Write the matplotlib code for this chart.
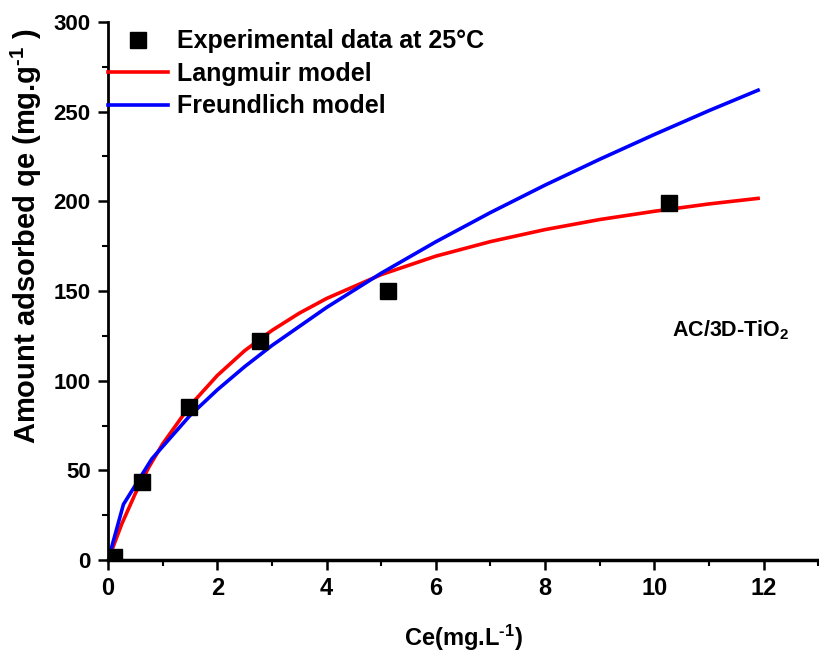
import matplotlib
matplotlib.use("Agg")
import matplotlib.pyplot as plt
from matplotlib.ticker import MultipleLocator

# datos experimentales (25 C)
ce_exp = [0.1, 0.62, 1.49, 2.78, 5.13, 10.26]
qe_exp = [1.5, 43.7, 85.2, 122.0, 150.0, 199.0]

# curva Langmuir
ce_lang = [0, 0.25, 0.5, 0.75, 1, 1.5, 2, 2.5, 3, 3.5, 4, 5, 6, 7, 8, 9, 10, 11, 11.9]
qe_lang = [0, 20.1, 37.2, 52.0, 64.8, 86.1, 102.9, 116.7, 128.0, 137.6, 145.8,
           159.1, 169.4, 177.5, 184.2, 189.8, 194.4, 198.5, 201.6]

# curva Freundlich
ce_freu = [0, 0.28, 0.8, 1.5, 2, 2.5, 3, 4, 5, 6, 7, 8, 9, 10, 11, 11.9]
qe_freu = [0, 31.0, 56.4, 80.6, 94.9, 107.8, 119.6, 140.8, 159.9, 177.4,
           193.7, 209.0, 223.4, 237.2, 250.5, 261.9]

plt.rcParams['font.family'] = ['Liberation Sans', 'DejaVu Sans']
plt.rcParams['font.weight'] = 'bold'
plt.rcParams['mathtext.fontset'] = 'custom'
plt.rcParams['mathtext.rm'] = 'Liberation Sans:bold'
plt.rcParams['mathtext.bf'] = 'Liberation Sans:bold'
plt.rcParams['mathtext.it'] = 'Liberation Sans:bold'

fig = plt.figure(figsize=(8.19, 6.62), dpi=100)
ax = fig.add_axes([0.132, 0.154, 0.867, 0.813])

ax.plot(ce_exp, qe_exp, 's', color='black', markersize=11, label='Experimental data at 25°C', zorder=3)
ax.plot(ce_lang, qe_lang, '-', color='#ff0000', lw=2.6, label='Langmuir model')
ax.plot(ce_freu, qe_freu, '-', color='#0000ff', lw=2.6, label='Freundlich model')

ax.set_xlim(0, 13)
ax.set_ylim(0, 300)
ax.xaxis.set_major_locator(MultipleLocator(2))
ax.xaxis.set_minor_locator(MultipleLocator(1))
ax.yaxis.set_major_locator(MultipleLocator(50))
ax.yaxis.set_minor_locator(MultipleLocator(25))

for s in ['top', 'right']:
    ax.spines[s].set_visible(False)
ax.spines['left'].set_linewidth(2.0)
ax.spines['bottom'].set_linewidth(2.5)
ax.tick_params(which='major', direction='out', length=7.5, width=1.8, pad=5)
ax.tick_params(axis='x', which='major', labelsize=17)
ax.tick_params(axis='y', which='major', labelsize=16)
ax.tick_params(which='minor', direction='out', length=4, width=1.5)
for lab in ax.get_xticklabels() + ax.get_yticklabels():
    lab.set_fontweight('bold')

ax.set_xlabel(r'Ce(mg.L$^{\text{-}1}$)', fontsize=17, fontweight='bold', labelpad=16)
ax.set_ylabel(r'Amount adsorbed qe (mg.g$^{\text{-}1}$ )', fontsize=21, fontweight='bold')
ax.yaxis.set_label_coords(-0.09, 0.602)

ax.text(10.33, 128, 'AC/3D-TiO$_2$', fontsize=15.5, fontweight='bold', va='center')

leg = ax.legend(loc='upper left', bbox_to_anchor=(0.0, 0.986), frameon=False,
                fontsize=18, handlelength=2.4, handletextpad=0.36, labelspacing=0.34,
                borderaxespad=0.0, borderpad=0.0)
for t in leg.get_texts():
    t.set_fontweight('bold')

fig.savefig('out.png', dpi=100)
